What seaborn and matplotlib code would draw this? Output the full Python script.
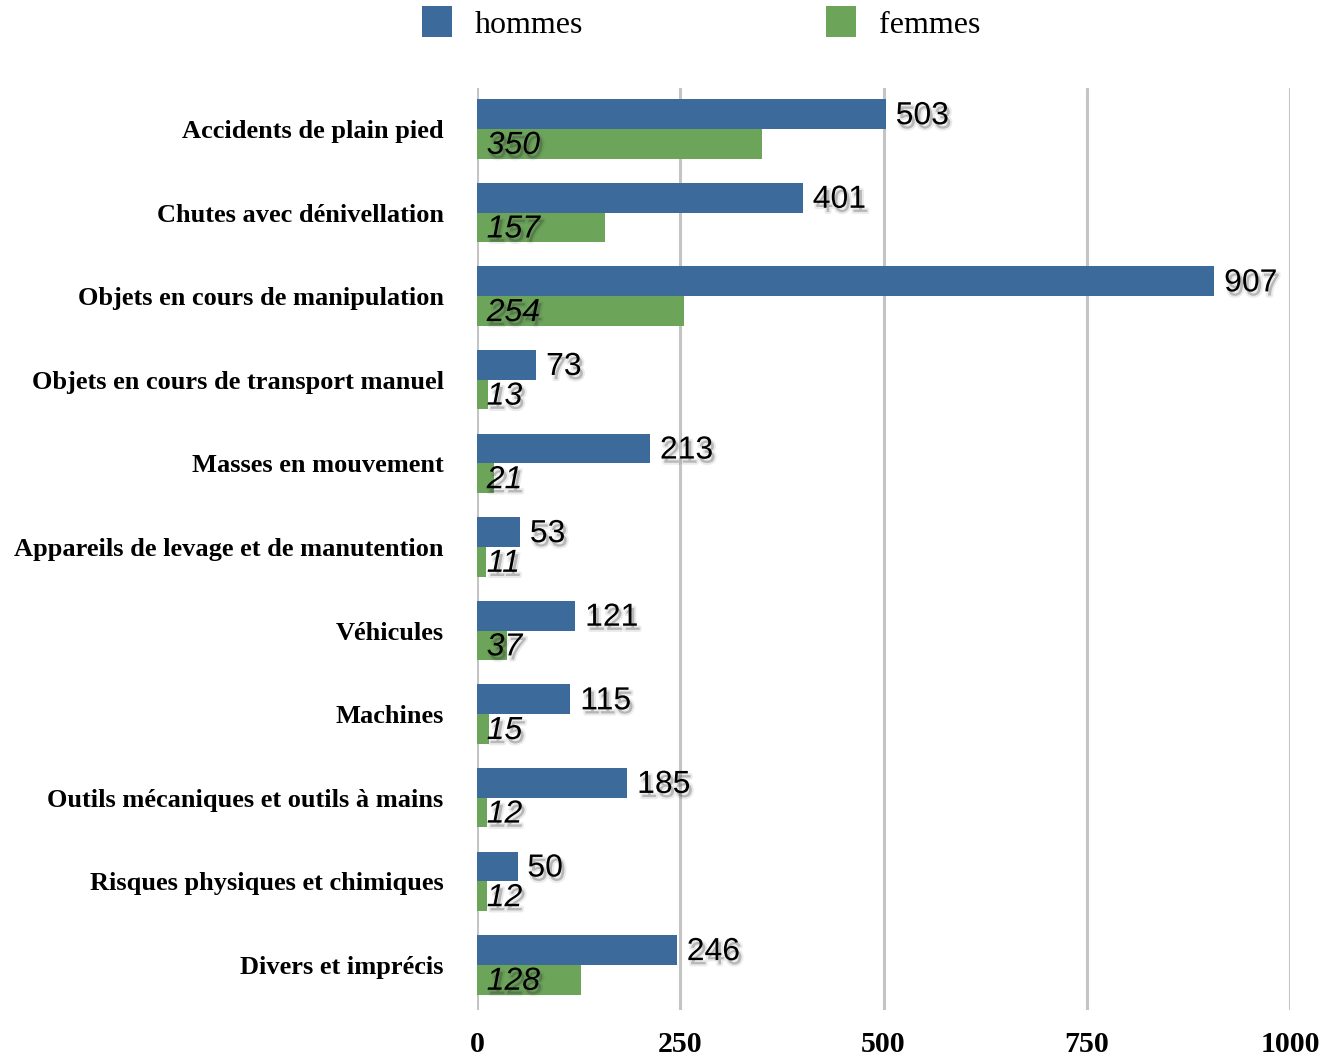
import matplotlib
matplotlib.use("Agg")
import matplotlib.pyplot as plt
import matplotlib.patheffects as pe
import seaborn as sns
import pandas as pd

categories = [
    "Accidents de plain pied",
    "Chutes avec dénivellation",
    "Objets en cours de manipulation",
    "Objets en cours de transport manuel",
    "Masses en mouvement",
    "Appareils de levage et de manutention",
    "Véhicules",
    "Machines",
    "Outils mécaniques et outils à mains",
    "Risques physiques et chimiques",
    "Divers et imprécis",
]
hommes = [503, 401, 907, 73, 213, 53, 121, 115, 185, 50, 246]
femmes = [350, 157, 254, 13, 21, 11, 37, 15, 12, 12, 128]
series = ["hommes", "femmes"]
colors = ["#3B6A9B", "#6CA45A"]
x_ticks = [0, 250, 500, 750, 1000]

df = pd.DataFrame({
    "cause": categories * 2,
    "nombre": hommes + femmes,
    "sexe": [series[0]] * len(categories) + [series[1]] * len(categories),
})

sns.set_style("white")
plt.rcParams["font.family"] = ["Liberation Serif", "DejaVu Serif"]
plt.rcParams["text.color"] = "black"
plt.rcParams["xtick.labelcolor"] = "black"
plt.rcParams["ytick.labelcolor"] = "black"

fig = plt.figure(figsize=(13.31, 10.59), dpi=100)
ax = fig.add_axes([477 / 1331, 1 - 1010 / 1059, (1290 - 477) / 1331, (1010 - 88) / 1059])

sns.barplot(data=df, y="cause", x="nombre", hue="sexe", hue_order=series,
            palette=colors, orient="h", width=0.71, saturation=1,
            errorbar=None, ax=ax, legend=True, linewidth=0, edgecolor="none")

ax.set_xlim(0, 1000)
ax.set_ylim(len(categories) - 0.46, -0.49)
ax.set_xticks(x_ticks)
ax.set_xticklabels([str(t) for t in x_ticks], fontsize=21.5, fontweight="bold",
                   family="Liberation Serif", color="black")
ax.tick_params(axis="x", length=0, pad=15)
ax.tick_params(axis="y", length=0, pad=24)
for lbl in ax.get_yticklabels():
    lbl.set_fontsize(19)
    lbl.set_fontweight("bold")
    lbl.set_family("Liberation Serif")
    lbl.set_color("black")
ax.set_xlabel("")
ax.set_ylabel("")
ax.xaxis.grid(True, color="#C4C4C4", linewidth=2.2)
ax.yaxis.grid(False)
ax.set_axisbelow(True)
for s in ax.spines.values():
    s.set_visible(False)

shadow = [
    pe.SimplePatchShadow(offset=(2, -3), shadow_rgbFace="#444444", alpha=0.18),
    pe.Stroke(offset=(2, -3), linewidth=3, foreground="#444444", alpha=0.10),
    pe.Normal(),
]

# value labels: hommes after the bar end, femmes inside the bar start
for bar in ax.containers[0]:
    yc = bar.get_y() + bar.get_height() / 2
    ax.annotate(f"{int(round(bar.get_width()))}", xy=(bar.get_width(), yc),
                xytext=(7, -1.5), textcoords="offset points", ha="left", va="center",
                fontsize=23, family="Liberation Sans", color="black",
                path_effects=shadow, annotation_clip=False)
for bar in ax.containers[1]:
    yc = bar.get_y() + bar.get_height() / 2
    ax.annotate(f"{int(round(bar.get_width()))}", xy=(0, yc),
                xytext=(7, -1.5), textcoords="offset points", ha="left", va="center",
                fontsize=23, family="Liberation Sans", style="italic", color="black",
                path_effects=shadow, annotation_clip=False)

handles, labels = ax.get_legend_handles_labels()
ax.get_legend().remove()
fig.legend(handles, labels, loc="center", bbox_to_anchor=(701 / 1331, 1 - 23 / 1059),
           ncol=2, frameon=False, handlelength=0.94, handleheight=1.08,
           handletextpad=0.72, columnspacing=7.6, labelcolor="black",
           prop={"family": "Liberation Serif", "size": 23})

fig.savefig("out.png", dpi=100)
